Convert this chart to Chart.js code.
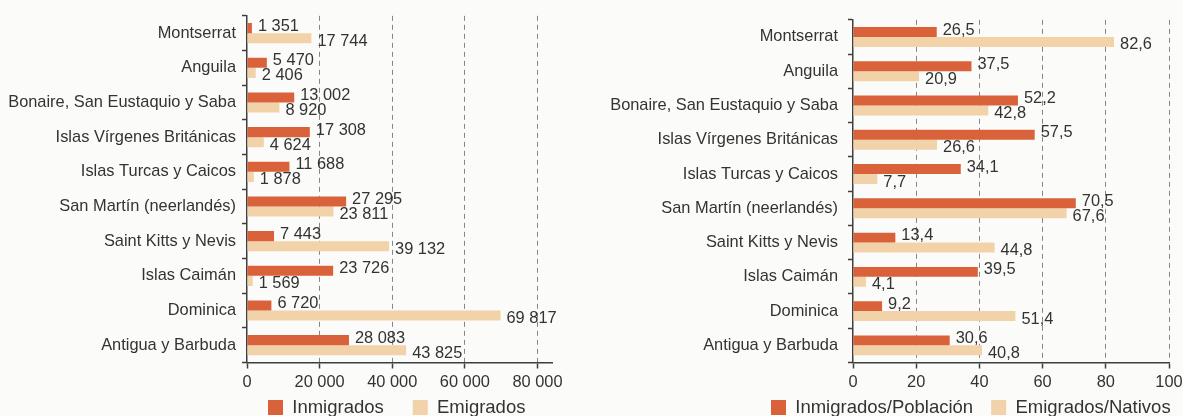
<!DOCTYPE html>
<html><head><meta charset="utf-8">
<script src="https://cdn.jsdelivr.net/npm/chart.js@4/dist/chart.umd.min.js"></script>
<style>
html,body{margin:0;padding:0;background:#fbfbfa;}
#wrap{position:relative;width:1183px;height:416px;overflow:hidden;}
canvas{position:absolute;left:0;top:0;}
</style></head><body>
<div id="wrap">
<canvas id="c1" width="1183" height="416"></canvas>
<canvas id="c2" width="1210" height="416"></canvas>
</div>
<script>
const categories = ['Montserrat','Anguila','Bonaire, San Eustaquio y Saba','Islas Vírgenes Británicas','Islas Turcas y Caicos','San Martín (neerlandés)','Saint Kitts y Nevis','Islas Caimán','Dominica','Antigua y Barbuda'];
const inmigrados = [1351,5470,13002,17308,11688,27295,7443,23726,6720,28083];
const emigrados = [17744,2406,8920,4624,1878,23811,39132,1569,69817,43825];
const inmigradosPoblacion = [26.5,37.5,52.2,57.5,34.1,70.5,13.4,39.5,9.2,30.6];
const emigradosNativos = [82.6,20.9,42.8,26.6,7.7,67.6,44.8,4.1,51.4,40.8];
const leftTicks = [0,20000,40000,60000,80000];
const rightTicks = [0,20,40,60,80,100];
const leftSeriesNames = ['Inmigrados','Emigrados'];
const rightSeriesNames = ['Inmigrados/Población','Emigrados/Nativos'];

Chart.defaults.font.family = '"Liberation Sans", Arial, Helvetica, sans-serif';
Chart.defaults.color = '#333';

const COLOR_IN = '#D9623B';
const COLOR_EM = '#F2D2A9';
const AXIS = '#3f3f3f';
const GRID = '#858585';
const LEGEND_FS = 18.5;
const LEGEND_BOX = 15;
const TEXT_FS = 16.4;

function fmtThousands(v){ return String(Math.round(v)).replace(/\B(?=(\d{3})+(?!\d))/g,' '); }
function fmtDecimal(v){ return Number(v).toFixed(1).replace('.',','); }
function fmtInt(v){ return String(Math.round(v)); }

function labelPlugin(fmt){
  return {
    id:'valueLabels',
    afterDatasetsDraw(chart){
      const ctx = chart.ctx;
      ctx.save();
      ctx.font = TEXT_FS + 'px "Liberation Sans", Arial, sans-serif';
      ctx.fillStyle = '#333';
      ctx.textAlign = 'left';
      ctx.textBaseline = 'middle';
      chart.data.datasets.forEach((ds, di) => {
        const meta = chart.getDatasetMeta(di);
        meta.data.forEach((bar, i) => {
          const dy = di === 0 ? -2 : 3;
          ctx.fillText(fmt(ds.data[i]), bar.x + 6, bar.y + dy);
        });
      });
      ctx.restore();
    }
  };
}

function legendPlugin(boxLeft, centerY, pad){
  return {
    id:'legendPlace',
    afterLayout(chart){
      const lg = chart.legend;
      if (!lg) return;
      const itemH = Math.max(LEGEND_FS, LEGEND_BOX);
      lg.left = boxLeft - pad;
      lg.right = chart.width + 600;
      lg.top = centerY - itemH/2 - pad;
      lg.bottom = chart.height;
      lg.width = lg.right - lg.left;
      lg.height = lg.bottom - lg.top;
    }
  };
}

function makeChart(id, names, d1, d2, cfg){
  return new Chart(document.getElementById(id), {
    type:'bar',
    data:{
      labels: categories,
      datasets:[
        {label:names[0], data:d1, backgroundColor:COLOR_IN, borderWidth:0, categoryPercentage:0.58, barPercentage:1},
        {label:names[1], data:d2, backgroundColor:COLOR_EM, borderWidth:0, categoryPercentage:0.58, barPercentage:1}
      ]
    },
    options:{
      indexAxis:'y',
      responsive:false,
      animation:false,
      events:[],
      layout:{padding:{left:0, right:cfg.padRight, top:cfg.top, bottom:0}},
      plugins:{
        tooltip:{enabled:false},
        legend:{
          display:true, position:'bottom', align:'start', maxHeight:1,
          labels:{font:{size:LEGEND_FS}, color:'#333', boxWidth:LEGEND_BOX, boxHeight:LEGEND_BOX, padding:cfg.legendPad}
        }
      },
      scales:{
        y:{
          type:'category',
          grid:{display:true, drawOnChartArea:false, drawTicks:true, tickLength:5, color:AXIS, tickColor:AXIS, tickWidth:1.5, offset:true},
          border:{display:true, color:AXIS, width:1.5},
          ticks:{font:{size:TEXT_FS}, color:'#333', padding:cfg.yPad, autoSkip:false},
          afterFit(s){ s.width = cfg.axisX; }
        },
        x:{
          type:'linear', min:0, max:cfg.max,
          afterBuildTicks(s){ s.ticks = cfg.ticks.map(v => ({value:v})); },
          grid:{
            display:true, drawOnChartArea:true, drawTicks:true, tickLength:6,
            color:(c) => (c.tick && c.tick.value === 0) ? 'rgba(0,0,0,0)' : GRID,
            lineWidth:1, tickColor:AXIS, tickWidth:1.5, tickBorderDash:[]
          },
          border:{display:true, color:AXIS, width:1.5, dash:[5,4]},
          ticks:{font:{size:TEXT_FS}, color:'#333', padding:4, autoSkip:false, maxRotation:0, callback:cfg.tickFmt},
          afterFit(s){ s.height = 416 - 1 - cfg.bottom; }
        }
      }
    },
    plugins:[labelPlugin(cfg.fmt), legendPlugin(cfg.legendLeft, 407.5, cfg.legendPad)]
  });
}

makeChart('c1', leftSeriesNames, inmigrados, emigrados, {
  padRight: 1183 - 552, top: 13.5, bottom: 362.5, axisX: 247, yPad: 6,
  max: 84000, ticks: leftTicks, fmt: fmtThousands, tickFmt: fmtThousands, legendLeft: 268, legendPad: 29
});
makeChart('c2', rightSeriesNames, inmigradosPoblacion, emigradosNativos, {
  padRight: 1210 - 1169, top: 14.5, bottom: 362.5, axisX: 853, yPad: 10,
  max: 100, ticks: rightTicks, fmt: fmtDecimal, tickFmt: fmtInt, legendLeft: 771, legendPad: 18
});
</script>
</body></html>
